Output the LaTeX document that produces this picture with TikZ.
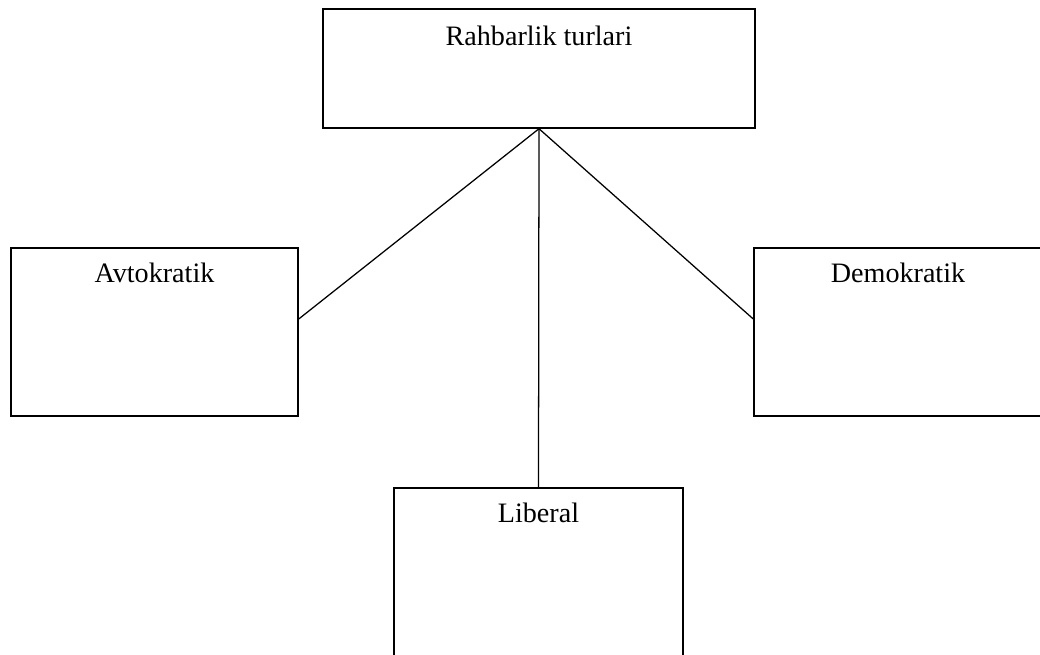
\documentclass[tikz,border=0pt]{standalone}
\usepackage{fontspec}
\setmainfont{Liberation Serif}
\usepackage{tikz}

\begin{document}
\begin{tikzpicture}[x=0.025cm, y=0.025cm]
        \tikzstyle{every node}+=[inner sep=0pt]
        \tikzstyle{box}=[draw=black, line width=1pt, fill=white, rectangle, font=\fontsize{20}{24}\selectfont, text height=0.875cm]
        \useasboundingbox (0,0) rectangle (1040,-655);
        \clip (0,0) rectangle (1040,-655);
        \fill [white] (0,0) rectangle (1040,-655);
        \node [box, minimum width=10.8cm, text height=0.925cm, text depth=2.05cm] (turlar) at (539,-68.5) {Rahbarlik turlari};
        \node [box, minimum width=7.175cm, text depth=3.325cm] (avto) at (154.5,-332) {Avtokratik};
        \node [box, minimum width=7.2cm, text depth=3.325cm] (demo) at (898,-332) {Demokratik};
        \node [box, minimum width=7.225cm, text depth=5.625cm] (liber) at (538.5,-618) {Liberal};
        \draw [black, line width=0.9pt] (turlar.south) -- ([yshift=0.325cm]avto.east);
        \draw [black, line width=0.9pt] (turlar.south) -- ([yshift=0.325cm]demo.west);
        \draw [black, line width=0.9pt] (turlar.south) -- (liber.north);
\end{tikzpicture}
\end{document}
